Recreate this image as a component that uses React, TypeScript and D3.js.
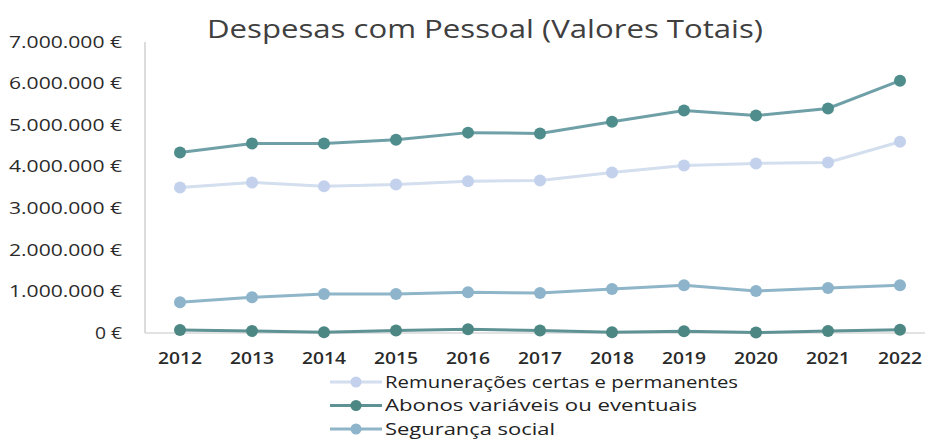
import React, { useRef, useEffect } from 'react';
import * as d3 from 'd3';

const years = ['2012', '2013', '2014', '2015', '2016', '2017', '2018', '2019', '2020', '2021', '2022'];
const remuneracoes = [3500000, 3620000, 3530000, 3570000, 3650000, 3670000, 3860000, 4030000, 4080000, 4100000, 4600000];
const abonos = [70000, 50000, 20000, 60000, 90000, 60000, 20000, 40000, 10000, 50000, 80000];
const seguranca = [740000, 860000, 940000, 940000, 980000, 960000, 1060000, 1150000, 1010000, 1080000, 1150000];
const total = [4340000, 4560000, 4560000, 4650000, 4820000, 4800000, 5080000, 5350000, 5230000, 5400000, 6070000];
const yTicks = [0, 1000000, 2000000, 3000000, 4000000, 5000000, 6000000, 7000000];

const series = [
    { name: 'Remunerações certas e permanentes', values: remuneracoes, line: '#d3deee', dot: '#c3d1ec', legend: true, w: 353 },
    { name: 'Abonos variáveis ou eventuais', values: abonos, line: '#5f9294', dot: '#4d8784', legend: true, w: 312 },
    { name: 'Segurança social', values: seguranca, line: '#8fb5c8', dot: '#8db4cb', legend: true, w: 170 },
    { name: 'Total', values: total, line: '#6fa0a8', dot: '#4f8d8c', legend: false, w: 0 },
];

const fmt = v => (v === 0 ? '0' : d3.format(',')(v).replace(/,/g, '.')) + ' €';

const Chart = () => {
    const svgRef = useRef();

    useEffect(() => {
        const svg = d3.select(svgRef.current);
        svg.selectAll("*").remove();
        const width = 939;
        const height = 439;
        const margin = { top: 42, left: 145, bottom: 333 };
        const font = "Open Sans, sans-serif";

        const x = d3.scalePoint()
            .domain(years)
            .range([180, 900]);

        const y = d3.scaleLinear()
            .domain([0, 7000000])
            .range([margin.bottom, margin.top]);

        svg.attr("width", width).attr("height", height);

        svg.append("text")
            .attr("x", 207)
            .attr("y", 38)
            .attr("font-family", font)
            .attr("font-size", 25)
            .attr("fill", "#3f3f3f")
            .attr("textLength", 556)
            .attr("lengthAdjust", "spacingAndGlyphs")
            .text("Despesas com Pessoal (Valores Totais)");

        // axes
        svg.append("line")
            .attr("x1", margin.left).attr("x2", margin.left)
            .attr("y1", margin.top).attr("y2", y(0))
            .attr("stroke", "#d0d0d0").attr("stroke-width", 1.5);
        svg.append("line")
            .attr("x1", margin.left).attr("x2", 925)
            .attr("y1", y(0)).attr("y2", y(0))
            .attr("stroke", "#d9d9d9").attr("stroke-width", 1.5);

        svg.append("g")
            .selectAll("text")
            .data(yTicks)
            .join("text")
            .attr("x", d => (d === 0 ? 95 : 9))
            .attr("y", d => y(d))
            .attr("dy", "0.36em")
            .attr("font-family", font)
            .attr("font-size", 16)
            .attr("fill", "#2a2a2a")
            .attr("textLength", d => (d === 0 ? 27 : 113))
            .attr("lengthAdjust", "spacingAndGlyphs")
            .text(fmt);

        svg.append("g")
            .selectAll("text")
            .data(years)
            .join("text")
            .attr("x", d => x(d) - 22)
            .attr("y", 364)
            .attr("font-family", font)
            .attr("font-size", 17)
            .attr("font-weight", 600)
            .attr("fill", "#2a2a2a")
            .attr("textLength", 44)
            .attr("lengthAdjust", "spacingAndGlyphs")
            .text(d => d);

        const line = d3.line()
            .x((d, i) => x(years[i]))
            .y(d => y(d));

        const g = svg.append("g")
            .selectAll("g")
            .data(series)
            .join("g");

        g.append("path")
            .attr("d", d => line(d.values))
            .attr("fill", "none")
            .attr("stroke", d => d.line)
            .attr("stroke-width", 3);

        g.selectAll("circle")
            .data(d => d.values.map(v => ({ v, s: d })))
            .join("circle")
            .attr("cx", (d, i) => x(years[i]))
            .attr("cy", d => y(d.v))
            .attr("r", 6)
            .attr("fill", d => d.s.dot);

        // legend
        const leg = svg.append("g")
            .selectAll("g")
            .data(series.filter(s => s.legend))
            .join("g")
            .attr("transform", (d, i) => `translate(330,${382 + i * 23.5})`);

        leg.append("line")
            .attr("x1", 0).attr("x2", 52)
            .attr("stroke", d => d.line)
            .attr("stroke-width", 3);
        leg.append("circle")
            .attr("cx", 26)
            .attr("r", 5.5)
            .attr("fill", d => d.dot);
        leg.append("text")
            .attr("x", 55)
            .attr("dy", "0.35em")
            .attr("font-family", font)
            .attr("font-size", 16)
            .attr("fill", "#222")
            .attr("textLength", d => d.w)
            .attr("lengthAdjust", "spacingAndGlyphs")
            .text(d => d.name);
    }, []);

    return <svg ref={svgRef} style={{ position: 'absolute', left: 0, top: 0 }}></svg>;
};

export default function App() {
    return <Chart />;
}
